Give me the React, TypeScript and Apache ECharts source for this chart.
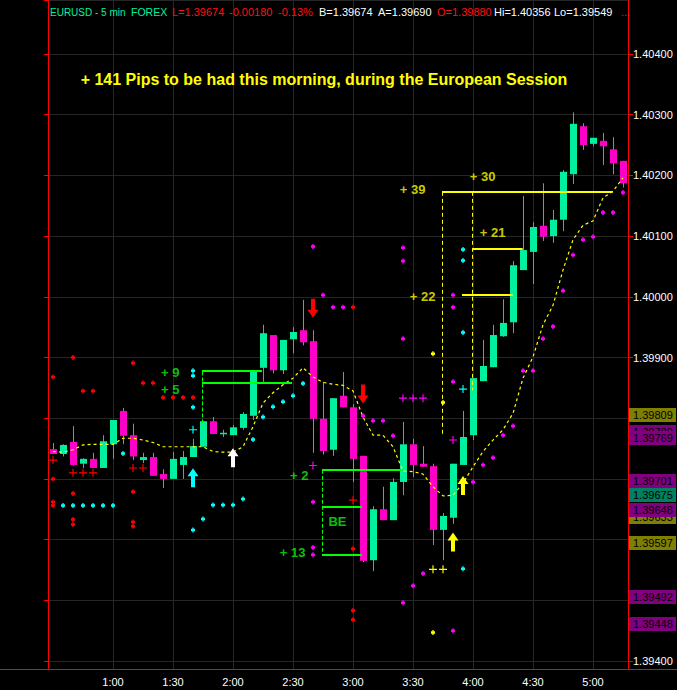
import React, { useEffect, useRef } from "react";
import * as echarts from "echarts";

// ---------- data ----------
const times = [
  "0:30","0:35","0:40","0:45","0:50","0:55",
  "1:00","1:05","1:10","1:15","1:20","1:25","1:30","1:35","1:40","1:45","1:50","1:55",
  "2:00","2:05","2:10","2:15","2:20","2:25","2:30","2:35","2:40","2:45","2:50","2:55",
  "3:00","3:05","3:10","3:15","3:20","3:25","3:30","3:35","3:40","3:45","3:50","3:55",
  "4:00","4:05","4:10","4:15","4:20","4:25","4:30","4:35","4:40","4:45","4:50","4:55",
  "5:00","5:05","5:10","5:15",
];
const timeTickLabels = ["1:00","1:30","2:00","2:30","3:00","3:30","4:00","4:30","5:00"];

const opens = [1.39749,1.39741,1.39761,1.39725,1.39733,1.39718,1.39757,1.39812,1.39772,1.39731,1.39736,1.39708,1.39700,1.39723,1.39736,1.39753,1.39795,1.39774,1.39772,1.39784,1.39804,1.39883,1.39937,1.39879,1.39930,1.39945,1.39927,1.39799,1.39748,1.39837,1.39818,1.39738,1.39566,1.39650,1.39632,1.39695,1.39757,1.39725,1.39721,1.39616,1.39636,1.39723,1.39772,1.39861,1.39884,1.39935,1.39958,1.40044,1.40074,1.40117,1.40100,1.40127,1.40202,1.40281,1.40252,1.40257,1.40243,1.40224];
const closes = [1.39741,1.39756,1.39723,1.39733,1.39718,1.39762,1.39797,1.39771,1.39737,1.39736,1.39705,1.39700,1.39733,1.39736,1.39754,1.39795,1.39774,1.39776,1.39785,1.39807,1.39879,1.39940,1.39879,1.39929,1.39942,1.39925,1.39799,1.39746,1.39833,1.39818,1.39733,1.39565,1.39650,1.39632,1.39695,1.39757,1.39723,1.39720,1.39616,1.39639,1.39725,1.39769,1.39866,1.39886,1.39937,1.39957,1.40052,1.40077,1.40115,1.40099,1.40127,1.40206,1.40285,1.40250,1.40262,1.40248,1.40220,1.40187];
const highs = [1.39759,1.39757,1.39787,1.39734,1.39743,1.39772,1.39797,1.39817,1.39791,1.39743,1.39743,1.39716,1.39744,1.39746,1.39766,1.39795,1.39802,1.39781,1.39789,1.39810,1.39879,1.39954,1.39937,1.39929,1.39950,1.39995,1.39945,1.39860,1.39833,1.39876,1.39823,1.39738,1.39655,1.39687,1.39701,1.39794,1.39766,1.39754,1.39725,1.39644,1.39725,1.39812,1.39866,1.39929,1.39954,1.39996,1.40059,1.40166,1.40123,1.40187,1.40143,1.40209,1.40304,1.40286,1.40262,1.40270,1.40263,1.40224];
const lows = [1.39741,1.39737,1.39722,1.39718,1.39718,1.39718,1.39733,1.39757,1.39731,1.39726,1.39705,1.39685,1.39700,1.39700,1.39736,1.39753,1.39774,1.39769,1.39772,1.39781,1.39797,1.39860,1.39874,1.39873,1.39907,1.39920,1.39743,1.39740,1.39738,1.39818,1.39695,1.39563,1.39548,1.39632,1.39632,1.39673,1.39703,1.39720,1.39591,1.39566,1.39626,1.39723,1.39764,1.39861,1.39884,1.39934,1.39940,1.40044,1.40021,1.40092,1.40089,1.40108,1.40186,1.40242,1.40248,1.40217,1.40202,1.40180];

const movingAvg = [1.39745,1.39744,1.39748,1.39756,1.39757,1.39757,1.39757,1.39767,1.39767,1.39764,1.39760,1.39753,1.39753,1.39753,1.39753,1.39753,1.39745,1.39744,1.39744,1.39753,1.39786,1.39825,1.39842,1.39855,1.39866,1.39883,1.39868,1.39859,1.39856,1.39854,1.39845,1.39802,1.39772,1.39772,1.39753,1.39713,1.39712,1.39708,1.39687,1.39672,1.39673,1.39693,1.39720,1.39745,1.39764,1.39781,1.39808,1.39866,1.39901,1.39954,1.39986,1.40044,1.40094,1.40118,1.40125,1.40163,1.40174,1.40196];

// indicator dots [bar index, price]
const cyanDots = [[1,1.39656],[2,1.39656],[3,1.39656],[4,1.39656],[5,1.39656],[6,1.39656],[7,1.39742],[14,1.39878],[14,1.3987],[14,1.39818],[14,1.39616],[15,1.39634],[16,1.39657],[17,1.39657],[18,1.39657],[19,1.39667],[20,1.39765],[21,1.39802],[22,1.39819],[23,1.39827],[24,1.39837],[25,1.39857],[41,1.40078],[41,1.4006],[41,1.39941],[41,1.39552]];
const cyanCrosses = [[14,1.39781],[41,1.39848]];
const redDots = [[0,1.39868],[0,1.397],[0,1.39662],[0,1.39656],[2,1.399],[2,1.39676],[2,1.39633],[2,1.39625],[3,1.39845],[4,1.39845],[8,1.39891],[8,1.39679],[8,1.39629],[8,1.39622],[9,1.39858],[10,1.39858],[11,1.39834],[12,1.39834],[13,1.39834],[14,1.39834],[30,1.39983],[30,1.39585],[30,1.39483],[30,1.39468]];
const redCrosses = [[0,1.39731],[2,1.3971],[3,1.3971],[4,1.3971],[8,1.39718],[9,1.39718],[30,1.39665]];
const magentaDots = [[26,1.40083],[26,1.39662],[26,1.39587],[26,1.39575],[27,1.40003],[28,1.39983],[29,1.39983],[31,1.39804],[32,1.39796],[33,1.39796],[34,1.39771],[35,1.40081],[35,1.40059],[35,1.39931],[35,1.39496],[36,1.39524],[37,1.39544],[40,1.40003],[40,1.39983],[40,1.3986],[40,1.3945],[42,1.39695],[43,1.39723],[44,1.39735],[45,1.39772],[46,1.39787],[47,1.39878],[48,1.39878],[49,1.39931],[50,1.39951],[51,1.4001],[52,1.40069],[53,1.40094],[54,1.40099],[55,1.40139],[56,1.40139],[57,1.40172]];
const magentaCrosses = [[26,1.39722],[35,1.39833],[36,1.39833],[37,1.39833],[40,1.39764]];
const yellowDots = [[38,1.39906],[38,1.39447],[39,1.39826]];
const yellowCrosses = [[38,1.39551],[39,1.39551]];

// signal arrows [bar index, price]
const cyanUpArrows = [[14,1.39702]];
const whiteUpArrows = [[18,1.39735]];
const yellowUpArrows = [[40,1.39596],[41,1.39689]];
const redDownArrows = [[26,1.39981],[31,1.3984]];

// trade levels [x1, price1, x2, price2] in bar-index units
const greenLevels = [[14.9,1.39877,20.9,1.39877],[14.9,1.39858,23.9,1.39858],[26.9,1.39715,34.9,1.39715],[26.9,1.39653,30.9,1.39653],[26.9,1.39575,30.9,1.39575]];
const greenStops = [[14.9,1.39877,14.9,1.39786],[26.9,1.39715,26.9,1.39575]];
const yellowLevels = [[38.9,1.40173,55.97,1.40173],[41.9,1.40078,46.97,1.40078],[40.9,1.40003,45.97,1.40003]];
const yellowStops = [[38.9,1.40173,38.9,1.39771],[41.9,1.40173,41.9,1.39846]];

const greenLabels = [["+ 9",12.8,1.39876],["+ 5",12.8,1.39848],["+ 2",25.7,1.39706],["BE",29.5,1.39629],["+ 13",25.4,1.39579]];
const yellowLabels = [["+ 39",37.4,1.40176],["+ 30",44.4,1.40198],["+ 21",45.4,1.40106],["+ 22",38.4,1.40001]];

// right-hand price markers
const markerTexts = ["1.39789","1.39769","1.39809","1.39701","1.39675","1.39633","1.39648","1.39597","1.39492","1.39448"];
const markerLevels = [1.39777,1.39767,1.39805,1.39697,1.39673,1.39637,1.39648,1.39595,1.39505,1.39461];
const markerKinds = ["p","p","o","p","g","o","p","o","p","p"];

const Y_MIN = 1.393868;
const Y_MAX = 1.40489;
const X_MIN = -0.5;
const X_MAX = 57.5;

const FONT = "Arial, 'Liberation Sans', sans-serif";
const SYM_DOT = "path://M1,0H2V1H3V3H2V4H1V3H0V1H1Z";
const SYM_CROSS = "path://M3,0H4V3H7V4H4V7H3V4H0V3H3Z";
const SYM_UP = "path://M5.5,0L11,8H7.5V19H3.5V8H0Z";
const SYM_DOWN = "path://M3.5,0H7.5V11H11L5.5,19L0,11H3.5Z";

const kindColor: Record<string, string> = { p: "#800080", o: "#808000", g: "#008060" };

function scatter(data: number[][], color: string, symbol: string, size: any, z = 6) {
  return {
    type: "scatter",
    xAxisIndex: 1,
    yAxisIndex: 0,
    data,
    symbol,
    symbolSize: size,
    itemStyle: { color, opacity: 1 },
    silent: true,
    z,
  };
}

function segLines(segs: number[][], color: string, width: number, dash: number[] | null) {
  return {
    type: "custom",
    xAxisIndex: 1,
    yAxisIndex: 0,
    z: 8,
    silent: true,
    data: segs,
    encode: { x: [0, 2], y: [1, 3] },
    renderItem: (_p: any, api: any) => {
      const a = api.coord([api.value(0), api.value(1)]);
      const b = api.coord([api.value(2), api.value(3)]);
      const vertical = Math.abs(a[0] - b[0]) < 0.5;
      const off = width % 2 === 1 ? 0.5 : 0;
      const x1 = vertical ? Math.round(a[0]) + off : a[0];
      const y1 = vertical ? a[1] : Math.round(a[1]) + off;
      const x2 = vertical ? Math.round(b[0]) + off : b[0];
      const y2 = vertical ? b[1] : Math.round(b[1]) + off;
      return {
        type: "line",
        shape: { x1, y1, x2, y2 },
        style: { stroke: color, lineWidth: width, lineDash: dash || undefined },
      };
    },
  };
}

function textLabels(items: any[], color: string) {
  return {
    type: "scatter",
    xAxisIndex: 1,
    yAxisIndex: 0,
    symbol: "circle",
    symbolSize: 1,
    itemStyle: { color: "rgba(0,0,0,0)" },
    silent: true,
    z: 9,
    label: {
      show: true,
      position: "left",
      distance: 1,
      formatter: "{b}",
      color,
      fontSize: 13,
      fontWeight: "bold",
      fontFamily: FONT,
    },
    data: items.map((d) => ({ name: d[0], value: [d[1], d[2]] })),
  };
}

export default function App() {
  const ref = useRef<HTMLDivElement>(null);

  useEffect(() => {
    if (!ref.current) return;
    const chart = echarts.init(ref.current, undefined, { renderer: "svg" });

    const candleData = times.map((_, i) => [i, opens[i], closes[i], highs[i], lows[i]]);
    const gridTimeIdx = timeTickLabels.map((t) => times.indexOf(t));

    const headerParts: [string, number, string, string][] = [
      ["EURUSD - 5 min", 50, "#00f0a0", "10px"],
      ["FOREX", 131, "#00f0a0", "10.5px"],
      ["L=1.39674", 172, "#ff1010", "11px"],
      ["-0.00180", 229, "#ff1010", "11px"],
      ["-0.13%", 278, "#ff1010", "11px"],
      ["B=1.39674", 319, "#ffffff", "11px"],
      ["A=1.39690", 378, "#ffffff", "11px"],
      ["O=1.39880", 437, "#ff1010", "11px"],
      ["Hi=1.40356", 494, "#ffffff", "11px"],
      ["Lo=1.39549", 554, "#ffffff", "11px"],
      ["...", 621, "#ff1010", "11px"],
    ];

    const yAxisBase = {
      type: "value",
      min: Y_MIN,
      max: Y_MAX,
      splitNumber: 11,
      minInterval: 0.001,
      maxInterval: 0.001,
      axisLine: { show: true, onZero: false, lineStyle: { color: "#ff0000", width: 1 } },
    };

    const option: any = {
      animation: false,
      backgroundColor: "#000000",
      grid: { left: 48, right: 49, top: 0, bottom: 21, containLabel: false },
      xAxis: [
        {
          type: "category",
          data: times,
          boundaryGap: true,
          axisLine: { show: true, onZero: false, lineStyle: { color: "#ff0000", width: 1 } },
          axisTick: { show: false },
          axisLabel: {
            interval: (_i: number, v: string) => timeTickLabels.includes(v),
            color: "#ffffff",
            fontSize: 11,
            fontFamily: FONT,
            margin: 7,
          },
          splitLine: { show: false },
        },
        {
          type: "value",
          min: X_MIN,
          max: X_MAX,
          show: false,
          axisLine: { onZero: false },
          splitLine: { show: false },
        },
      ],
      yAxis: [
        {
          ...yAxisBase,
          position: "right",
          axisTick: { show: true, length: 5, lineStyle: { color: "#ff0000" } },
          axisLabel: {
            color: "#ffffff",
            fontSize: 11,
            fontFamily: FONT,
            margin: 5,
            showMinLabel: false,
            showMaxLabel: false,
            formatter: (v: number) => v.toFixed(5),
          },
          splitLine: { show: true, lineStyle: { color: "#262626", width: 1 } },
        },
        {
          ...yAxisBase,
          position: "left",
          axisTick: { show: true, length: 4, lineStyle: { color: "#ff0000" } },
          axisLabel: { show: false },
          splitLine: { show: false },
        },
      ],
      series: [
        // vertical time grid lines
        {
          type: "custom",
          xAxisIndex: 0,
          yAxisIndex: 0,
          z: 1,
          silent: true,
          data: gridTimeIdx.map((i) => [i, Y_MIN]),
          encode: { x: 0, y: 1 },
          renderItem: (params: any, api: any) => {
            const p = api.coord([api.value(0), Y_MIN]);
            const cs = params.coordSys;
            const x = Math.floor(p[0]) + 0.5;
            return {
              type: "line",
              shape: { x1: x, y1: cs.y, x2: x, y2: cs.y + cs.height },
              style: { stroke: "#262626", lineWidth: 1 },
            };
          },
        },
        // candles
        {
          type: "custom",
          xAxisIndex: 0,
          yAxisIndex: 0,
          z: 3,
          silent: true,
          encode: { x: 0, y: [1, 2, 3, 4] },
          data: candleData,
          renderItem: (_params: any, api: any) => {
            const i = api.value(0);
            const o = api.value(1);
            const c = api.value(2);
            const h = api.value(3);
            const l = api.value(4);
            const po = api.coord([i, o]);
            const pc = api.coord([i, c]);
            const ph = api.coord([i, h]);
            const pl = api.coord([i, l]);
            const cx = Math.floor(po[0]) + 0.5;
            const top = Math.min(po[1], pc[1]);
            const bot = Math.max(po[1], pc[1]);
            const hgt = Math.max(bot - top, 1.5);
            const up = c >= o;
            return {
              type: "group",
              children: [
                {
                  type: "line",
                  shape: { x1: cx, y1: ph[1], x2: cx, y2: pl[1] },
                  style: { stroke: "#8c8c8c", lineWidth: 1 },
                },
                {
                  type: "rect",
                  shape: { x: cx - 3.5, y: top, width: 7, height: hgt },
                  style: { fill: up ? "#00f0a0" : "#ff00c8" },
                },
              ],
            };
          },
        },
        // moving average
        {
          type: "line",
          xAxisIndex: 0,
          yAxisIndex: 0,
          data: movingAvg,
          symbol: "none",
          silent: true,
          z: 5,
          lineStyle: { color: "#ffff00", width: 1.2, type: [3, 3] },
        },
        scatter(cyanDots, "#00ffff", SYM_DOT, [4, 5]),
        scatter(redDots, "#ff0000", SYM_DOT, [4, 5]),
        scatter(magentaDots, "#ff00ff", SYM_DOT, [4, 5]),
        scatter(yellowDots, "#ffff00", SYM_DOT, [4, 5]),
        scatter(cyanCrosses, "#00ffff", SYM_CROSS, 8),
        scatter(redCrosses, "#ff0000", SYM_CROSS, 8),
        scatter(magentaCrosses, "#ff00ff", SYM_CROSS, 8),
        scatter(yellowCrosses, "#ffff00", SYM_CROSS, 8),
        scatter(cyanUpArrows, "#00ffff", SYM_UP, [11, 19], 7),
        scatter(whiteUpArrows, "#ffffff", SYM_UP, [11, 19], 7),
        scatter(yellowUpArrows, "#ffff00", SYM_UP, [11, 19], 7),
        scatter(redDownArrows, "#ff0000", SYM_DOWN, [11, 19], 7),
        segLines(greenLevels, "#00ff00", 2, null),
        segLines(greenStops, "#00ff00", 1, [4, 2]),
        segLines(yellowLevels, "#ffff00", 2, null),
        segLines(yellowStops, "#ffff00", 1, [4, 3]),
        textLabels(greenLabels, "#11f011"),
        textLabels(yellowLabels, "#ffff00"),
        // right-hand price markers
        {
          type: "custom",
          xAxisIndex: 1,
          yAxisIndex: 0,
          z: 20,
          silent: true,
          clip: false,
          data: markerLevels.map((v, i) => [X_MAX, v, i]),
          encode: { x: 0, y: 1 },
          renderItem: (_p: any, api: any) => {
            const i = api.value(2);
            const pt = api.coord([X_MAX, api.value(1)]);
            const x0 = Math.round(pt[0]);
            const yc = Math.round(pt[1]);
            return {
              type: "group",
              children: [
                {
                  type: "rect",
                  shape: { x: x0 + 1, y: yc - 7, width: 47, height: 14 },
                  style: { fill: kindColor[markerKinds[i]] },
                },
                {
                  type: "text",
                  x: x0 + 5,
                  y: yc,
                  style: {
                    text: markerTexts[i],
                    fill: "#000000",
                    font: `11px ${FONT}`,
                    align: "left",
                    verticalAlign: "middle",
                  },
                },
              ],
            };
          },
        },
      ],
      graphic: [
        {
          type: "line",
          z: 50,
          silent: true,
          shape: { x1: 0, y1: 669.5, x2: 677, y2: 669.5 },
          style: { stroke: "#ff0000", lineWidth: 1 },
        },
        ...headerParts.map((p) => ({
          type: "text",
          z: 60,
          silent: true,
          x: p[1],
          y: 12,
          style: {
            text: p[0],
            fill: p[2],
            font: `${p[3]} ${FONT}`,
            align: "left",
            verticalAlign: "middle",
          },
        })),
        {
          type: "text",
          z: 60,
          silent: true,
          x: 324,
          y: 79,
          style: {
            text: "+ 141 Pips to be had this morning, during the European Session",
            fill: "#ffff00",
            font: `bold 16px ${FONT}`,
            align: "center",
            verticalAlign: "middle",
          },
        },
      ],
    };

    chart.setOption(option);
    return () => chart.dispose();
  }, []);

  return (
    <div
      ref={ref}
      style={{ position: "fixed", left: 0, top: 0, width: 677, height: 690, background: "#000" }}
    />
  );
}
